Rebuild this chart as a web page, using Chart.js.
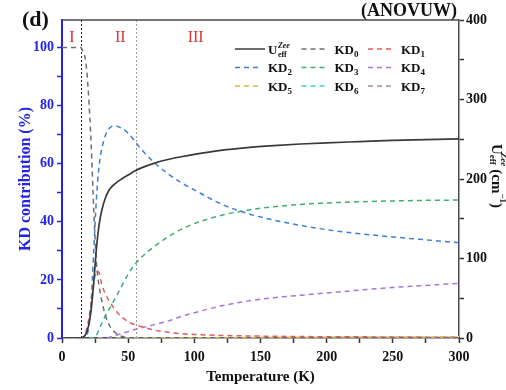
<!DOCTYPE html>
<html>
<head>
<meta charset="utf-8">
<script src="https://cdn.jsdelivr.net/npm/chart.js@4.4.1/dist/chart.umd.min.js"></script>
<style>
  html, body { margin: 0; padding: 0; background: #fff; }
  canvas { display: block; }
</style>
</head>
<body>
<canvas id="kdChart" width="506" height="390"></canvas>
<script>
// temperature grid (K)
const temps = [0, 5, 10, 14, 16, 18, 20, 22, 24, 26, 28, 30, 33, 36, 40, 45, 50, 55, 60, 70, 80, 90, 100, 120, 140, 160, 180, 200, 225, 250, 275, 300];

// U_eff^Zee in cm^-1 (right axis)
const ueff = [0, 0, 0, 0, 1, 5, 15, 35, 70, 112, 142, 160, 177, 187, 194, 200, 205, 210, 214, 220, 224.5, 228, 231, 236, 239.5, 242, 244, 245.5, 247, 248.5, 249.5, 250.5];

// KD contributions in % (left axis)
const kd0 = [100, 100, 100, 100, 98.5, 95, 84, 67, 44, 26, 18, 13, 7.5, 4.2, 2, 0.6, 0.1, 0, 0, 0, 0, 0, 0, 0, 0, 0, 0, 0, 0, 0, 0, 0];
const kd1 = [0, 0, 0, 0, 0.2, 2, 6, 12, 19, 23, 22.5, 18.5, 15, 12.5, 9.8, 7.3, 5.6, 4.6, 3.9, 2.7, 2, 1.5, 1.2, 0.9, 0.7, 0.6, 0.5, 0.45, 0.4, 0.35, 0.3, 0.3];
const kd2 = [0, 0, 0, 0, 0, 0.5, 3, 12, 30, 48, 59, 65, 70, 72.3, 73.1, 72.2, 70.5, 67.8, 65, 60.3, 56.6, 53.5, 51, 46.2, 42.9, 40.6, 38.8, 37.3, 35.9, 34.8, 33.8, 32.8];
const kd3 = [0, 0, 0, 0, 0, 0, 0, 0, 0, 0.8, 3, 5, 7.8, 10.2, 13.5, 17.8, 22, 25.3, 27.8, 31.6, 34.8, 37.4, 39.4, 42.2, 44, 45.2, 46, 46.5, 46.9, 47.2, 47.4, 47.5];
const kd4 = [0, 0, 0, 0, 0, 0, 0, 0, 0, 0, 0, 0, 0, 0.3, 0.8, 1.5, 2.2, 2.9, 3.5, 4.6, 5.8, 7.4, 8.7, 11, 12.7, 13.9, 14.7, 15.5, 16.5, 17.4, 18.1, 18.8];
const kd5 = [0, 0, 0, 0, 0, 0, 0, 0, 0, 0, 0, 0, 0, 0, 0, 0, 0, 0, 0.02, 0.04, 0.06, 0.08, 0.1, 0.14, 0.18, 0.22, 0.26, 0.3, 0.33, 0.36, 0.38, 0.4];
const kd6 = [0, 0, 0, 0, 0, 0, 0, 0, 0, 0, 0, 0, 0, 0, 0, 0, 0, 0, 0, 0, 0, 0, 0, 0.01, 0.02, 0.03, 0.04, 0.05, 0.06, 0.07, 0.08, 0.1];
const kd7 = [0, 0, 0, 0, 0, 0, 0, 0, 0, 0, 0, 0, 0, 0, 0, 0, 0, 0, 0, 0, 0, 0, 0, 0, 0, 0, 0, 0, 0.01, 0.01, 0.02, 0.02];

// ticks
const xTicks = [0, 50, 100, 150, 200, 250, 300];
const leftTicks = [0, 20, 40, 60, 80, 100];
const rightTicks = [0, 100, 200, 300, 400];

// regions
const regionBounds = [14.6, 55.7];
const regionNames = ['I', 'II', 'III'];
const regionLabelAt = [7.5, 44, 101];

const SERIF = '"Liberation Serif", "Times New Roman", serif';
const BLUE = '#2323e6';
const FRAME = '#4a4a4a';

const kdSeries = [kd0, kd1, kd2, kd3, kd4, kd5, kd6, kd7];
const kdColors = ['#6e6e6e', '#e35b5b', '#3d7fd6', '#3fae6e', '#a874d8', '#d8b64a', '#37cfd3', '#a68c9a'];

const pts = arr => temps.map((t, i) => ({ x: t, y: arr[i] }));

const datasets = [{
  label: 'U_eff^Zee',
  data: pts(ueff),
  yAxisID: 'y1',
  borderColor: '#3a3a3a',
  borderWidth: 1.7,
  pointRadius: 0,
  cubicInterpolationMode: 'monotone'
}];
kdSeries.forEach((s, i) => {
  datasets.push({
    label: 'KD' + i,
    data: pts(s),
    yAxisID: 'y',
    borderColor: kdColors[i],
    borderWidth: 1.5,
    borderDash: [5, 4],
    pointRadius: 0,
    cubicInterpolationMode: 'monotone'
  });
});

function withMinor(major, step) {
  const out = [];
  for (let v = major[0]; v <= major[major.length - 1] + 1e-9; v += step) out.push({ value: v });
  return out;
}

// draws text pieces with sub/superscripts, returns total width
function richText(ctx, parts, x, y, measureOnly) {
  let cx = x;
  parts.forEach(p => {
    ctx.font = (p.italic ? 'italic ' : '') + 'bold ' + p.size + 'px ' + SERIF;
    if (!measureOnly) ctx.fillText(p.t, cx, y + (p.dy || 0));
    cx += ctx.measureText(p.t).width + (p.gap || 0);
  });
  return cx - x;
}

const overlay = {
  id: 'overlay',
  beforeDatasetsDraw(chart) {
    const { ctx, chartArea: a, scales } = chart;
    ctx.save();
    ctx.lineWidth = 1;
    ctx.setLineDash([2, 2]);
    regionBounds.forEach((t, i) => {
      ctx.strokeStyle = i === 0 ? '#222' : '#9a9a9a';
      const px = Math.round(scales.x.getPixelForValue(t)) + 0.5;
      ctx.beginPath();
      ctx.moveTo(px, a.top);
      ctx.lineTo(px, a.bottom);
      ctx.stroke();
    });
    ctx.setLineDash([]);
    ctx.fillStyle = '#dc3434';
    ctx.font = '16px ' + SERIF;
    ctx.textAlign = 'center';
    ctx.textBaseline = 'middle';
    regionNames.forEach((n, i) => {
      ctx.fillText(n, scales.x.getPixelForValue(regionLabelAt[i]), scales.y.getPixelForValue(103.5));
    });
    ctx.restore();
  },
  afterDraw(chart) {
    const { ctx, chartArea: a } = chart;
    ctx.save();
    // top frame
    ctx.strokeStyle = FRAME;
    ctx.lineWidth = 1.5;
    ctx.beginPath();
    ctx.moveTo(a.left, a.top);
    ctx.lineTo(a.right, a.top);
    ctx.stroke();

    // panel labels
    ctx.fillStyle = '#111';
    ctx.textBaseline = 'middle';
    ctx.textAlign = 'left';
    ctx.font = 'bold 22px ' + SERIF;
    ctx.fillText('(d)', 22, 20);
    ctx.textAlign = 'right';
    ctx.font = 'bold 18px ' + SERIF;
    ctx.fillText('(ANOVUW)', 457, 11);

    // legend
    ctx.textAlign = 'left';
    ctx.textBaseline = 'alphabetic';
    chart.data.datasets.forEach((ds, i) => {
      const col = i % 3, row = Math.floor(i / 3);
      const x0 = 235 + col * 66.5;
      const y0 = 49 + row * 18.5;
      ctx.strokeStyle = ds.borderColor;
      ctx.lineWidth = 1.5;
      ctx.setLineDash(ds.borderDash || []);
      ctx.beginPath();
      ctx.moveTo(x0, y0);
      ctx.lineTo(x0 + (ds.borderDash ? 27 : 30), y0);
      ctx.stroke();
      ctx.setLineDash([]);
      ctx.fillStyle = '#111';
      const tx = x0 + 33, ty = y0 + 4.5;
      if (i === 0) {
        ctx.font = 'bold 13px ' + SERIF;
        ctx.fillText('U', tx, ty);
        const uw = ctx.measureText('U').width;
        ctx.font = 'italic bold 8px ' + SERIF;
        ctx.fillText('Zee', tx + uw + 0.5, ty - 6);
        ctx.font = 'bold 8px ' + SERIF;
        ctx.fillText('eff', tx + uw + 0.5, ty + 3);
      } else {
        richText(ctx, [{ t: 'KD', size: 13 }, { t: String(i - 1), size: 9, dy: 3 }], tx, ty);
      }
    });

    // right axis title, rotated clockwise
    const parts = [
      { t: 'U', size: 15 },
      { t: 'eff', size: 9, dy: 4, gap: -12 },
      { t: 'Zee', size: 9, dy: -7, italic: true, gap: 3 },
      { t: '(cm', size: 15 },
      { t: '\u22121', size: 9, dy: -6 },
      { t: ')', size: 15 }
    ];
    ctx.translate(496, 176);
    ctx.rotate(Math.PI / 2);
    ctx.textBaseline = 'middle';
    const w = richText(ctx, parts, 0, 0, true);
    richText(ctx, parts, -w / 2, 0);
    ctx.restore();
  }
};

const ctx = document.getElementById('kdChart');
new Chart(ctx, {
  type: 'line',
  data: { datasets: datasets },
  options: {
    responsive: false,
    animation: false,
    devicePixelRatio: 1,
    layout: { padding: { top: 20, left: 0, right: 0, bottom: 0 } },
    plugins: { legend: { display: false }, tooltip: { enabled: false } },
    scales: {
      x: {
        type: 'linear',
        min: 0,
        max: 300,
        afterBuildTicks: s => { s.ticks = withMinor(xTicks, 25); },
        afterFit: s => { s.height = 52; },
        ticks: {
          autoSkip: false,
          maxRotation: 0,
          padding: 6,
          color: '#111',
          font: { family: SERIF, size: 14, weight: 'bold' },
          callback: v => xTicks.includes(v) ? v : ''
        },
        grid: { drawOnChartArea: false, drawTicks: true, tickLength: 5, tickColor: '#333', tickWidth: 1.5 },
        border: { color: FRAME, width: 1.5 },
        title: {
          display: true,
          text: 'Temperature (K)',
          color: '#111',
          font: { family: SERIF, size: 15, weight: 'bold' },
          padding: { top: 4, bottom: 4 }
        }
      },
      y: {
        position: 'left',
        min: 0,
        max: 109.5,
        afterBuildTicks: s => { s.ticks = withMinor(leftTicks, 10); },
        afterFit: s => { s.width = 62; },
        ticks: {
          autoSkip: false,
          padding: 3,
          color: BLUE,
          font: { family: SERIF, size: 14, weight: 'bold' },
          callback: v => leftTicks.includes(v) ? v : ''
        },
        grid: { drawOnChartArea: false, drawTicks: true, tickLength: 5, tickColor: BLUE, tickWidth: 1.5 },
        border: { color: BLUE, width: 2 },
        title: {
          display: true,
          text: 'KD contribution (%)',
          color: BLUE,
          font: { family: SERIF, size: 16, weight: 'bold' },
          padding: { top: 16, bottom: 0 }
        }
      },
      y1: {
        position: 'right',
        min: 0,
        max: 400,
        afterBuildTicks: s => { s.ticks = withMinor(rightTicks, 50); },
        afterFit: s => { s.width = 47; },
        ticks: {
          autoSkip: false,
          padding: 2,
          color: '#111',
          font: { family: SERIF, size: 14, weight: 'bold' },
          callback: v => rightTicks.includes(v) ? v : ''
        },
        grid: { drawOnChartArea: false, drawTicks: true, tickLength: 5, tickColor: '#333', tickWidth: 1.5 },
        border: { color: FRAME, width: 1.5 }
      }
    }
  },
  plugins: [overlay]
});
</script>
</body>
</html>
